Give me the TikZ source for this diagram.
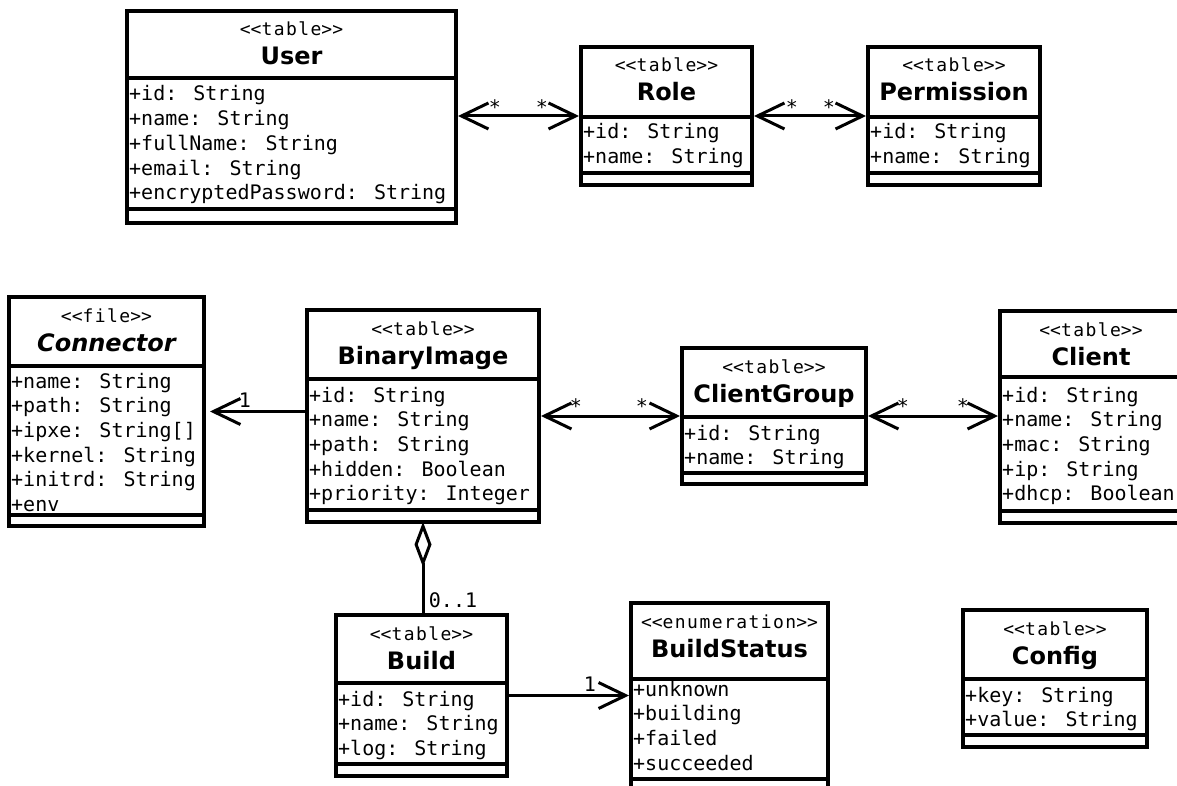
\documentclass[tikz,border=0pt]{standalone}
\usepackage{fontspec}
\usetikzlibrary{arrows.meta}
\newfontfamily\attrfont{DejaVu Sans Mono}
\newfontfamily\stereofont{DejaVu Sans Mono}[LetterSpace=8]
\newfontfamily\namefont{DejaVu Sans}

% <<...>> without the TeX guillemet ligature
\newcommand\guil[1]{<\kern0pt<\kern0pt#1\kern0pt>\kern0pt>}

\tikzset{
  boxframe/.style={draw, line width=3.3pt, fill=white, inner sep=0pt, outer sep=0pt, anchor=north west},
  divider/.style={line width=3.3pt},
  stereo/.style={font=\stereofont\fontsize{18}{20}\selectfont, inner sep=0pt, anchor=base},
  classname/.style={font=\namefont\bfseries\fontsize{24}{28}\selectfont, inner sep=0pt, anchor=base},
  attr/.style={font=\attrfont\fontsize{20}{24}\selectfont, inner sep=0pt, anchor=base west},
  mult/.style={font=\attrfont\fontsize{20}{24}\selectfont, inner sep=0pt, anchor=base},
  barb/.tip={Straight Barb[length=27pt,width=26pt]},
  assoc/.style={line width=3pt, barb-barb, shorten <=2pt, shorten >=2pt},
  toone/.style={line width=3pt, -barb, shorten >=2pt},
  aggr/.style={line width=3pt, {Diamond[open,length=45pt,width=17pt]}-},
}

% class box: name, left, top, right, header line, attribute line, bottom, stereotype, class name
\newcommand\classbox[9]{%
  \node[boxframe, minimum width={#4-#2}, minimum height={#7-#3}] (#1) at (#2,#3) {};
  \draw[divider] (#2,#5) -- (#4,#5);
  \draw[divider] (#2,#6) -- (#4,#6);
  \node[stereo] (#1-st) at ({(#2+#4)/2},{#3+25}) {\guil{#8}};
  \node[classname] (#1-nm) at ({(#2+#4)/2},{#3+54}) {#9};
}
% attribute lines: name, left, first baseline, items
\newcommand\attrlist[4]{%
  \foreach \attrtext [count=\i] in {#4} {
    \node[attr] (#1-a\i) at ({#2+2},{#3+(\i-1)*24.7}) {\attrtext};
  }
}

\begin{document}
\begin{tikzpicture}[x=1pt,y=-1pt]
\fill[white] (0,0) rectangle (1177,786);
\useasboundingbox (0,0) rectangle (1177,786);

% access control
\classbox{user}{127}{11}{456}{78}{209}{223}{table}{User}
\attrlist{user}{127}{101}{+id: String,+name: String,+fullName: String,+email: String,+encryptedPassword: String}
\classbox{role}{581}{47}{752}{117}{173}{185}{table}{Role}
\attrlist{role}{581}{139}{+id: String,+name: String}
\classbox{perm}{868}{47}{1040}{117}{173}{185}{table}{Permission}
\attrlist{perm}{868}{139}{+id: String,+name: String}

% images and clients
\classbox{conn}{9}{297}{204}{366}{515}{526}{file}{\itshape Connector}
\attrlist{conn}{9}{388}{+name: String,+path: String,+ipxe: String[],+kernel: String,+initrd: String,+env}
\classbox{bin}{307}{310}{539}{379}{510}{522}{table}{BinaryImage}
\attrlist{bin}{307}{402}{+id: String,+name: String,+path: String,+hidden: Boolean,+priority: Integer}
\classbox{cg}{682}{348}{866}{417}{473}{484}{table}{ClientGroup}
\attrlist{cg}{682}{440}{+id: String,+name: String}
\classbox{client}{1000}{311}{1182}{377}{511}{523}{table}{Client}
\attrlist{client}{1000}{402}{+id: String,+name: String,+mac: String,+ip: String,+dhcp: Boolean}

% builds
\classbox{build}{336}{615}{507}{683}{764}{776}{table}{Build}
\attrlist{build}{336}{706}{+id: String,+name: String,+log: String}
\classbox{bstat}{631}{603}{828}{679}{779}{792}{enumeration}{BuildStatus}
\attrlist{bstat}{631}{696}{+unknown,+building,+failed,+succeeded}
\classbox{config}{963}{610}{1147}{679}{735}{747}{table}{Config}
\attrlist{config}{963}{702}{+key: String,+value: String}

% associations
\draw[assoc] (user.east |- role.west) -- (role.west);
\draw[assoc] (role.east) -- (perm.west);
\draw[assoc] (bin.east |- cg.west) -- (cg.west);
\draw[assoc] (cg.east) -- (client.west |- cg.east);
\draw[toone, shorten >=6pt] (bin.west |- conn.east) -- (conn.east);
\draw[toone] (build.east) -- (bstat.west |- build.east);
\draw[aggr] (bin.south) -- (bin.south |- build.north);

% multiplicities
\node[mult] (m-ur1) at (495,114.5) {*};
\node[mult] (m-ur2) at (542,114.5) {*};
\node[mult] (m-rp1) at (792,114.5) {*};
\node[mult] (m-rp2) at (829,114.5) {*};
\node[mult] (m-bc1) at (576,413.5) {*};
\node[mult] (m-bc2) at (642,413.5) {*};
\node[mult] (m-cc1) at (903,413.5) {*};
\node[mult] (m-cc2) at (963,413.5) {*};
\node[mult] (m-conn) at (245,407) {1};
\node[mult] (m-stat) at (590,691) {1};
\node[mult] (m-build) at (453,607) {0..1};
\end{tikzpicture}
\end{document}
